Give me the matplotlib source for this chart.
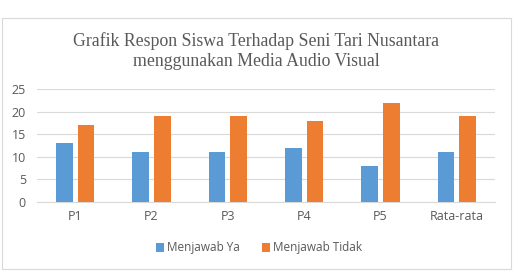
import numpy as np
import matplotlib.pyplot as plt
from matplotlib.patches import Rectangle

# data
categories = ['P1', 'P2', 'P3', 'P4', 'P5', 'Rata-rata']
ya = [13, 11, 11, 12, 8, 11]
tidak = [17, 19, 19, 18, 22, 19]
yticks = [0, 5, 10, 15, 20, 25]

blue = '#5B9BD5'
orange = '#ED7D31'
text_col = '#595959'

fig = plt.figure(figsize=(5.16, 2.72), dpi=100)
W, H = 516, 272

# light chart border like the office chart frame
fig.patches.append(Rectangle((2 / W, 3 / H), 509 / W, 251 / H, transform=fig.transFigure,
                             fill=False, edgecolor='#D9D9D9', linewidth=0.8))

ax = fig.add_axes([37 / W, 1 - 202 / H, 458 / W, 113 / H])

x = np.arange(len(categories))
bw = 0.22
gap = 0.065
ax.bar(x - (bw + gap) / 2, ya, bw, color=blue, label='Menjawab Ya', zorder=3)
ax.bar(x + (bw + gap) / 2, tidak, bw, color=orange, label='Menjawab Tidak', zorder=3)

ax.set_xlim(-0.5, len(categories) - 0.5)
ax.set_ylim(0, 25)
ax.set_yticks(yticks)
ax.set_xticks(x)
ax.set_xticklabels(categories)
ax.yaxis.grid(True, color='#D9D9D9', linewidth=0.8, zorder=0)
for s in ['top', 'right', 'left']:
    ax.spines[s].set_visible(False)
ax.spines['bottom'].set_color('#D9D9D9')
ax.tick_params(axis='both', length=0, labelsize=9, labelcolor=text_col, pad=6)
ax.tick_params(axis='y', pad=8)
for lab in ax.get_xticklabels() + ax.get_yticklabels():
    lab.set_fontfamily('Open Sans')

fig.text(256 / W, 1 - 51 / H,
         'Grafik Respon Siswa Terhadap Seni Tari Nusantara\nmenggunakan Media Audio Visual',
         ha='center', va='center', fontsize=12.8, color=text_col,
         family='Liberation Serif', linespacing=1.2)

leg = fig.legend(loc='center', bbox_to_anchor=(259 / W, 1 - 248 / H), ncol=2, frameon=False,
                 handlelength=0.7, handleheight=0.7, handletextpad=0.3, columnspacing=1.8,
                 prop={'family': 'Open Sans', 'size': 8.5})
for t in leg.get_texts():
    t.set_color(text_col)

plt.savefig('out.png', dpi=100)
